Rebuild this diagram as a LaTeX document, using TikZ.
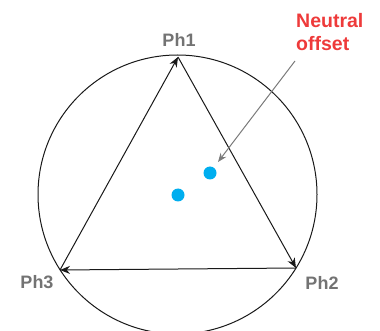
\documentclass[tikz,border=0pt]{standalone}
\usepackage{fontspec}
\setmainfont{Liberation Sans}
\usetikzlibrary{arrows.meta}
\definecolor{phgray}{HTML}{737373}
\definecolor{nred}{HTML}{EE3A3A}
\definecolor{dotblue}{HTML}{00AEEF}
\definecolor{argray}{HTML}{7A7A7A}
\tikzset{
  phlabel/.style={font=\bfseries\fontsize{18}{20}\selectfont, text=phgray, inner sep=0pt},
  vec/.style={line width=1pt, draw=black!90, -{Stealth[length=10pt,width=8pt]}},
  dot/.style={circle, fill=dotblue, minimum size=13pt, inner sep=0pt},
}
\begin{document}
\begin{tikzpicture}[x=1pt,y=-1pt]
\useasboundingbox (0,0) rectangle (380,331);
\clip (0,0) rectangle (380,331);
\draw[line width=1pt, black!90] (177.5,194.5) circle (139.5);
\coordinate (v1) at (178,57);
\coordinate (v2) at (296,268);
\coordinate (v3) at (60,270);
\draw[vec] (v3) -- (v1);
\draw[vec] (v1) -- (v2);
\draw[vec] (v2) -- (v3);
\node[phlabel] (p1) at (179,40) {Ph1};
\node[phlabel] (p2) at (322,283) {Ph2};
\node[phlabel] (p3) at (37,282) {Ph3};
\node[dot] (d1) at (178,195) {};
\node[dot] (d2) at (210,173) {};
\node[font=\bfseries\fontsize{19.5}{23}\selectfont, text=nred, align=left, anchor=north west, inner sep=0pt] (no) at (296,13) {Neutral\\offset};
\coordinate (as) at (295,61);
\draw[argray, line width=1pt, -{Stealth[length=9pt,width=7pt]}] (as) -- (218,162);
\end{tikzpicture}
\end{document}
